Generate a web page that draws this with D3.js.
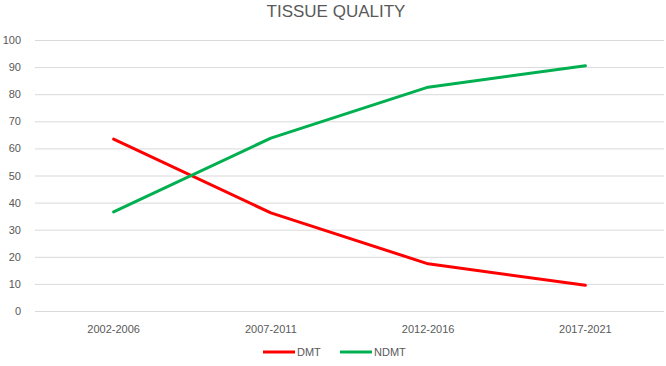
<!DOCTYPE html>
<html>
<head>
<meta charset="utf-8">
<script src="https://cdn.jsdelivr.net/npm/d3@7"></script>
<style>
  body { margin: 0; background: #fff; }
  text { font-family: "Liberation Sans", Arial, sans-serif; fill: #595959; }
</style>
</head>
<body>
<div id="chart"></div>
<script>
const periods = ["2002-2006", "2007-2011", "2012-2016", "2017-2021"];
const dmtValues = [63.4, 36.2, 17.4, 9.5];
const ndmtValues = [36.6, 63.8, 82.6, 90.5];
const yTicks = [0, 10, 20, 30, 40, 50, 60, 70, 80, 90, 100];

const ctx = {
    W: 666,
    H: 366,
    plot: { left: 35, right: 664, top: 40, bottom: 311 },
};

const series = [
    { name: "DMT", color: "#FF0000", values: dmtValues },
    { name: "NDMT", color: "#00B050", values: ndmtValues },
];

function createViz() {
    const svgEl = d3
        .select("#chart")
        .append("svg")
        .attr("width", ctx.W)
        .attr("height", ctx.H);

    const x = d3
        .scaleBand()
        .domain(periods)
        .range([ctx.plot.left, ctx.plot.right]);

    const y = d3
        .scaleLinear()
        .domain([0, 100])
        .range([ctx.plot.bottom, ctx.plot.top]);

    // title
    svgEl
        .append("text")
        .attr("x", 336)
        .attr("y", 17)
        .attr("text-anchor", "middle")
        .style("font-size", "17px")
        .text("TISSUE QUALITY");

    // gridlines + y labels
    const yAxis = d3
        .axisLeft(y)
        .tickValues(yTicks)
        .tickSize(-(ctx.plot.right - ctx.plot.left))
        .tickPadding(14);

    const gy = svgEl
        .append("g")
        .attr("transform", `translate(${ctx.plot.left}, 0)`)
        .call(yAxis);
    gy.select(".domain").remove();
    gy.selectAll(".tick line").attr("stroke", "#D9D9D9").attr("stroke-width", 1);
    gy.selectAll(".tick text").style("font-size", "11px").attr("fill", "#595959");

    // x labels
    const gx = svgEl
        .append("g")
        .attr("transform", `translate(0, ${ctx.plot.bottom})`)
        .call(d3.axisBottom(x).tickSize(0).tickPadding(14));
    gx.select(".domain").remove();
    gx.selectAll(".tick text").style("font-size", "11px").attr("fill", "#595959");

    // lines
    const line = d3
        .line()
        .x((d, i) => x(periods[i]) + x.bandwidth() / 2)
        .y((d) => y(d));

    svgEl
        .append("g")
        .selectAll("path")
        .data(series)
        .enter()
        .append("path")
        .attr("d", (d) => line(d.values))
        .attr("fill", "none")
        .attr("stroke", (d) => d.color)
        .attr("stroke-width", 3)
        .attr("stroke-linecap", "round")
        .attr("stroke-linejoin", "round");

    // legend
    const legendPos = [263, 340];
    const legend = svgEl
        .append("g")
        .selectAll("g")
        .data(series)
        .enter()
        .append("g")
        .attr("transform", (d, i) => `translate(${legendPos[i]}, 352)`);

    legend
        .append("line")
        .attr("x1", 0)
        .attr("x2", 32)
        .attr("stroke", (d) => d.color)
        .attr("stroke-width", 3);

    legend
        .append("text")
        .attr("x", 34)
        .attr("y", 4)
        .style("font-size", "11px")
        .text((d) => d.name);
}

createViz();
</script>
</body>
</html>
